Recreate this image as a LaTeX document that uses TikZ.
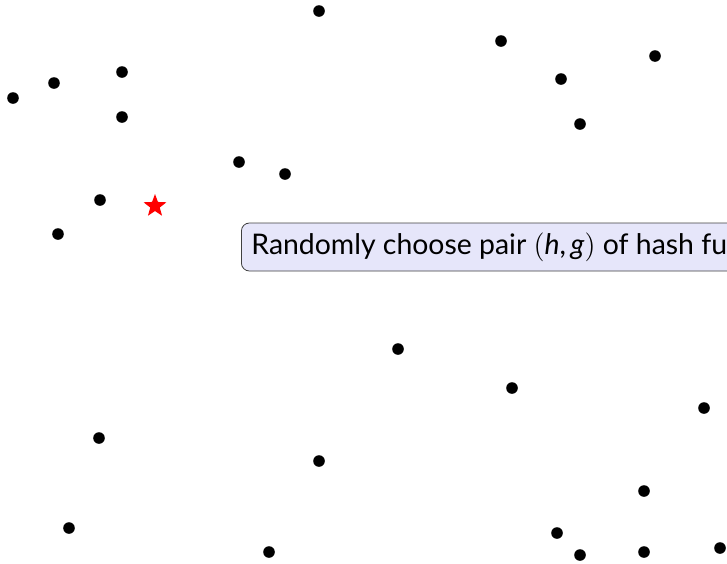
\documentclass[tikz,border=0pt]{standalone}
\usepackage{fontspec}
\setmainfont{Lato}
\usepackage{xcolor}
\usetikzlibrary{shapes.geometric}
\definecolor{boxFill}{HTML}{E6E6FA}
\definecolor{boxEdge}{HTML}{404040}
\tikzset{
  pt/.style={circle, fill=black, inner sep=0pt, minimum size=5.8pt},
  query/.style={star, star points=5, star point ratio=2.4, fill=red,
                inner sep=0pt, minimum size=12pt},
  hashbox/.style={draw=boxEdge, fill=boxFill, rounded corners=4pt,
                  inner xsep=5pt, minimum height=24pt, anchor=west,
                  font=\fontsize{14.2}{17}\selectfont}
}

\begin{document}
\begin{tikzpicture}[x=0.5pt, y=-0.5pt]
 \useasboundingbox (0,0) rectangle (727,563);
 % data points
 \foreach \px/\py [count=\k] in {319/11, 501/41, 655/56, 122/72, 54/83, 561/79,
     13/98, 122/117, 580/124, 239/162, 285/174, 100/200, 58/234, 398/349,
     512/388, 704/408, 99/438, 319/461, 644/491, 69/528, 557/533, 269/552,
     580/555, 644/552, 720/548}{
   \node[pt] (p\k) at (\px,\py) {};
 }
 % query point
 \node[query] (q) at (155,206) {};
 \node[hashbox] (pick) at (241,247)
   {Randomly choose pair $($\textit{h},\,\textit{g}$)$ of hash functions};
\end{tikzpicture}
\end{document}
